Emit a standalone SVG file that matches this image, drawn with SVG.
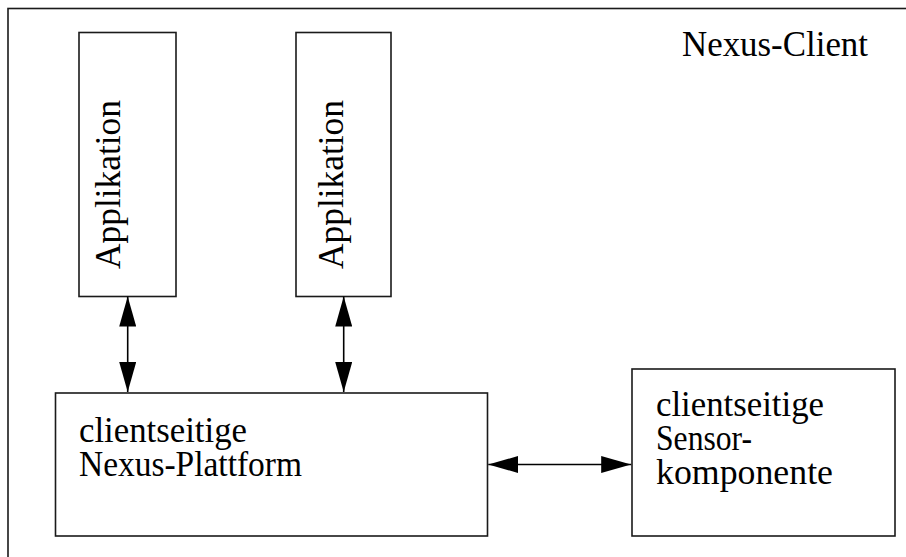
<svg xmlns="http://www.w3.org/2000/svg" width="906" height="557" viewBox="0 0 906 557">
  <style>
    .box { fill: #ffffff; stroke: #1a1a1a; stroke-width: 1.6; }
    .frame { fill: none; stroke: #1a1a1a; stroke-width: 1.6; }
    .lbl { font-size: 36px; fill: #000000; }
    .link { stroke: #000000; stroke-width: 1.6; fill: none; marker-start: url(#head); marker-end: url(#head); }
  </style>
  <defs>
    <marker id="head" markerUnits="userSpaceOnUse" markerWidth="30" markerHeight="17" refX="30" refY="8.5" orient="auto-start-reverse">
      <path d="M0,0 L30,8.5 L0,17 Z" fill="#000000"/>
    </marker>
  </defs>

  <g font-family="Liberation Serif, DejaVu Serif, Times New Roman, serif">
    <!-- client boundary (open to the right and bottom) -->
    <g id="client">
      <rect class="frame" x="8" y="8.5" width="1000" height="1000"/>
      <text class="lbl" x="682" y="56" textLength="186" lengthAdjust="spacingAndGlyphs">Nexus-Client</text>
    </g>

    <g id="app1">
      <rect class="box" x="79" y="32.5" width="97" height="264"/>
      <text class="lbl" transform="translate(120,269) rotate(-90)" textLength="169" lengthAdjust="spacingAndGlyphs">Applikation</text>
    </g>

    <g id="app2">
      <rect class="box" x="296" y="32.5" width="95" height="264"/>
      <text class="lbl" transform="translate(343,269) rotate(-90)" textLength="169" lengthAdjust="spacingAndGlyphs">Applikation</text>
    </g>

    <g id="platform">
      <rect class="box" x="55.5" y="393" width="432" height="143"/>
      <text class="lbl" x="79" y="442" textLength="168" lengthAdjust="spacingAndGlyphs">clientseitige</text>
      <text class="lbl" x="79" y="476" textLength="223" lengthAdjust="spacingAndGlyphs">Nexus-Plattform</text>
    </g>

    <g id="sensor">
      <rect class="box" x="632" y="369" width="263" height="167"/>
      <text class="lbl" x="656" y="416" textLength="168" lengthAdjust="spacingAndGlyphs">clientseitige</text>
      <text class="lbl" x="656" y="450" textLength="96" lengthAdjust="spacingAndGlyphs">Sensor-</text>
      <text class="lbl" x="656" y="484" textLength="177" lengthAdjust="spacingAndGlyphs">komponente</text>
    </g>
  </g>

  <g id="connectors">
    <line class="link" x1="127.7" y1="296.5" x2="127.7" y2="392"/>
    <line class="link" x1="343.7" y1="296.5" x2="343.7" y2="392"/>
    <line class="link" x1="488.3" y1="464.5" x2="631.2" y2="464.5"/>
  </g>
</svg>
